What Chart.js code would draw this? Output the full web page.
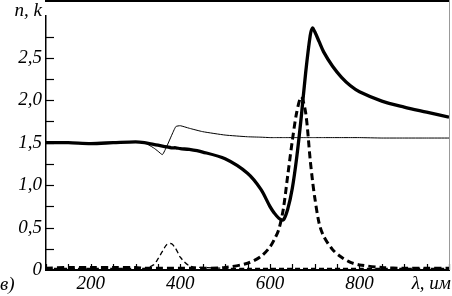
<!DOCTYPE html>
<html lang="ru">
<head>
    <meta charset="UTF-8">
    <title>n, k</title>
    <style>
        html, body { margin: 0; padding: 0; background: #fff; }
        canvas { display: block; }
    </style>
</head>
<body>
<canvas id="myChart" width="452" height="296"></canvas>

<script src="https://cdn.jsdelivr.net/npm/chart.js@4/dist/chart.umd.min.js"></script>
<script>
    // ------------------------------------------------------------------ data

    var lambda = [100, 150, 200, 250, 300, 320, 340, 350, 360, 370, 380, 390, 400, 420, 450, 500,
                  550, 580, 600, 610, 620, 630, 640, 650, 660, 670, 680, 690, 695, 700, 710, 720,
                  740, 760, 780, 800, 850, 900, 950, 1000]

    // thick solid
    var nThick = [1.50, 1.50, 1.49, 1.50, 1.51, 1.50, 1.48, 1.47, 1.46, 1.45, 1.44, 1.44, 1.43, 1.42, 1.39, 1.31,
                  1.14, 0.95, 0.75, 0.67, 0.61, 0.59, 0.72, 0.96, 1.33, 1.80, 2.33, 2.76, 2.85, 2.81, 2.69, 2.57,
                  2.40, 2.27, 2.17, 2.10, 1.99, 1.92, 1.86, 1.80]

    // thin solid
    var nThin = [1.50, 1.50, 1.49, 1.50, 1.51, 1.50, 1.44, 1.40, 1.36, 1.46, 1.58, 1.69, 1.70, 1.67, 1.63, 1.59,
                 1.57, 1.565, 1.56, 1.56, 1.56, 1.56, 1.56, 1.56, 1.56, 1.56, 1.56, 1.56, 1.56, 1.56, 1.56, 1.56,
                 1.56, 1.56, 1.56, 1.56, 1.555, 1.555, 1.555, 1.555]

    // thick dashed
    var kThick = [0.02, 0.03, 0.03, 0.03, 0.03, 0.02, 0.02, 0.02, 0.02, 0.02, 0.02, 0.02, 0.02, 0.02, 0.02, 0.03,
                  0.08, 0.16, 0.27, 0.36, 0.48, 0.72, 1.12, 1.52, 1.86, 2.04, 1.85, 1.30, 1.06, 0.86, 0.55, 0.40,
                  0.24, 0.15, 0.09, 0.06, 0.03, 0.02, 0.02, 0.02]

    // thin dashed
    var kThin = [0.02, 0.02, 0.02, 0.02, 0.02, 0.02, 0.06, 0.13, 0.22, 0.30, 0.31, 0.25, 0.15, 0.05, 0.03, 0.02,
                 0.02, 0.02, 0.02, 0.02, 0.02, 0.02, 0.02, 0.02, 0.02, 0.02, 0.02, 0.02, 0.02, 0.02, 0.02, 0.02,
                 0.02, 0.02, 0.02, 0.02, 0.02, 0.02, 0.02, 0.02]

    var xLabels = [200, 400, 600, 800]
    var yLabels = { 0: '0', 0.5: '0,5', 1: '1,0', 1.5: '1,5', 2: '2,0', 2.5: '2,5' }

    var toPoints = function (ys) {
      return lambda.map(function (x, i) { return { x: x, y: ys[i] } })
    }

    var FONT = 'italic 19px "Liberation Serif", "DejaVu Serif", serif'

    // ---------------------------------------------------- inward ticks, frame

    var framePlugin = {
      id: 'frame',
      afterDraw: function (chart) {
        var ctx = chart.ctx
        var a = chart.chartArea
        var xs = chart.scales.x
        var ys = chart.scales.y
        ctx.save()
        ctx.strokeStyle = '#000'
        ctx.lineWidth = 1.2
        for (var v = 100; v <= 1000; v += 50) {
          var px = Math.round(xs.getPixelForValue(v)) + 0.5
          ctx.beginPath()
          ctx.moveTo(px, a.bottom)
          ctx.lineTo(px, a.bottom - 6)
          ctx.stroke()
        }
        for (var w = 0.25; w < 3; w += 0.25) {
          var py = Math.round(ys.getPixelForValue(w)) + 0.5
          ctx.beginPath()
          ctx.moveTo(a.left, py)
          ctx.lineTo(a.left + 8, py)
          ctx.stroke()
        }
        // top frame line
        ctx.fillStyle = '#000'
        ctx.fillRect(a.left - 1, 0, a.right - a.left + 1, 2)
        // right frame line
        ctx.strokeStyle = '#999'
        ctx.lineWidth = 1
        ctx.beginPath()
        ctx.moveTo(a.right + 0.5, 0)
        ctx.lineTo(a.right + 0.5, a.bottom)
        ctx.stroke()

        // axis captions
        ctx.fillStyle = '#000'
        ctx.font = FONT
        ctx.textAlign = 'right'
        ctx.textBaseline = 'alphabetic'
        ctx.fillText('n, k', 42, 16)
        ctx.fillText('λ, им', 451, 289)
        ctx.textAlign = 'left'
        ctx.fillText('в)', 0, 290)
        ctx.restore()
      }
    }

    // -------------------------------------------------------------- chart.js

    var ctx = document.getElementById('myChart').getContext('2d')

    var myChart = new Chart(ctx, {
      type: 'line',
      data: {
        datasets: [
          {
            data: toPoints(kThin),
            borderColor: '#000',
            borderWidth: 1.3,
            borderDash: [5, 3],
            tension: 0.3
          },
          {
            data: toPoints(kThick),
            borderColor: '#000',
            borderWidth: 3,
            borderDash: [7, 4],
            tension: 0.3
          },
          {
            data: toPoints(nThin),
            borderColor: '#000',
            borderWidth: 1,
            tension: 0.15
          },
          {
            data: toPoints(nThick),
            borderColor: '#000',
            borderWidth: 3.3,
            tension: 0.3
          }
        ]
      },
      options: {
        responsive: false,
        devicePixelRatio: 1,
        animation: false,
        layout: { padding: { top: 1, right: 1, left: 0, bottom: 0 } },
        elements: { point: { radius: 0 } },
        plugins: {
          legend: { display: false },
          tooltip: { enabled: false }
        },
        scales: {
          x: {
            type: 'linear',
            min: 100,
            max: 1000,
            border: { color: '#000', width: 2 },
            grid: { display: false, drawTicks: false },
            afterFit: function (scale) { scale.height = 26 },
            ticks: {
              stepSize: 50,
              autoSkip: false,
              maxRotation: 0,
              padding: 3,
              color: '#000',
              font: { family: '"Liberation Serif", serif', style: 'italic', size: 19 },
              callback: function (v) { return xLabels.indexOf(v) >= 0 ? String(v) : '' }
            }
          },
          y: {
            min: 0,
            max: 3,
            border: { color: '#000', width: 1.5 },
            grid: { display: false, drawTicks: false },
            afterFit: function (scale) { scale.width = 46 },
            ticks: {
              stepSize: 0.5,
              padding: 4,
              color: '#000',
              font: { family: '"Liberation Serif", serif', style: 'italic', size: 19 },
              callback: function (v) { return yLabels[v] !== undefined ? yLabels[v] : '' }
            }
          }
        }
      },
      plugins: [framePlugin]
    })
</script>
</body>
</html>
